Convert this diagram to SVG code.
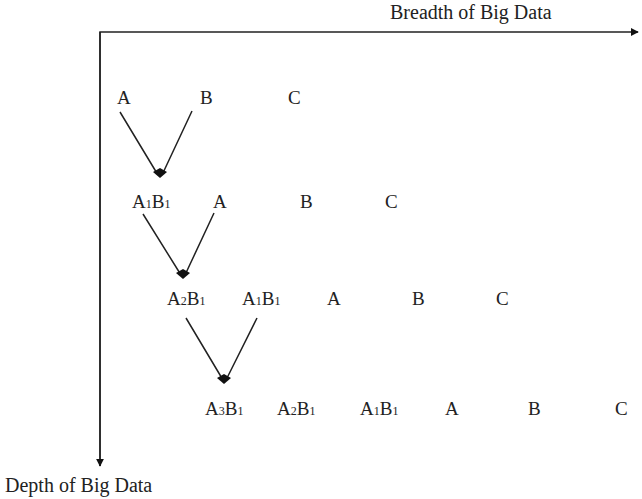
<svg xmlns="http://www.w3.org/2000/svg" width="642" height="499" viewBox="0 0 642 499">
<defs>
<style>
text{font-family:"Liberation Serif","Times New Roman",serif;fill:#222}
.l{font-size:19px}
.s{font-size:12px}
.ax{font-size:20px}
.ln{stroke:#222;stroke-width:1.5;fill:none}
.hd{fill:#111}
</style>
<marker id="ah" viewBox="0 0 10 10" refX="9" refY="5" markerWidth="8" markerHeight="8" markerUnits="userSpaceOnUse" orient="auto">
<path d="M0,0 L10,5 L0,10 z" fill="#111"/>
</marker>
</defs>
<rect width="642" height="499" fill="#fff"/>
<g id="axes">
<path class="ln" d="M100,466 L100,32 L638,32" marker-end="url(#ah)"/>
<path class="ln" d="M100,32 L100,466" marker-end="url(#ah)"/>
<text class="ax" x="390" y="19">Breadth of Big Data</text>
<text class="ax" x="5" y="492">Depth of Big Data</text>
</g>
<g id="row1">
<text class="l" x="117" y="104">A</text>
<text class="l" x="200" y="104">B</text>
<text class="l" x="288" y="104">C</text>
</g>
<g id="row2">
<text class="l" x="132" y="208">A<tspan class="s">1</tspan>B<tspan class="s">1</tspan></text>
<text class="l" x="213" y="208">A</text>
<text class="l" x="300" y="208">B</text>
<text class="l" x="385" y="208">C</text>
</g>
<g id="row3">
<text class="l" x="167" y="305">A<tspan class="s">2</tspan>B<tspan class="s">1</tspan></text>
<text class="l" x="242" y="305">A<tspan class="s">1</tspan>B<tspan class="s">1</tspan></text>
<text class="l" x="327" y="305">A</text>
<text class="l" x="412" y="305">B</text>
<text class="l" x="496" y="305">C</text>
</g>
<g id="row4">
<text class="l" x="205" y="415">A<tspan class="s">3</tspan>B<tspan class="s">1</tspan></text>
<text class="l" x="277" y="415">A<tspan class="s">2</tspan>B<tspan class="s">1</tspan></text>
<text class="l" x="360" y="415">A<tspan class="s">1</tspan>B<tspan class="s">1</tspan></text>
<text class="l" x="445" y="415">A</text>
<text class="l" x="528" y="415">B</text>
<text class="l" x="615" y="415">C</text>
</g>
<g id="connectors">
<path class="ln" d="M120,112 L158,175 M192,111 L162,175"/>
<path class="hd" d="M153,172 L160,168 L167,172 L160,178 z"/>
<path class="ln" d="M143,214 L181,275 M214,213 L185,275"/>
<path class="hd" d="M176,273 L183,269 L190,273 L183,279 z"/>
<path class="ln" d="M186,318 L223,380 M257,318 L226,380"/>
<path class="hd" d="M217,378 L224,374 L231,378 L224,384 z"/>
</g>
</svg>
